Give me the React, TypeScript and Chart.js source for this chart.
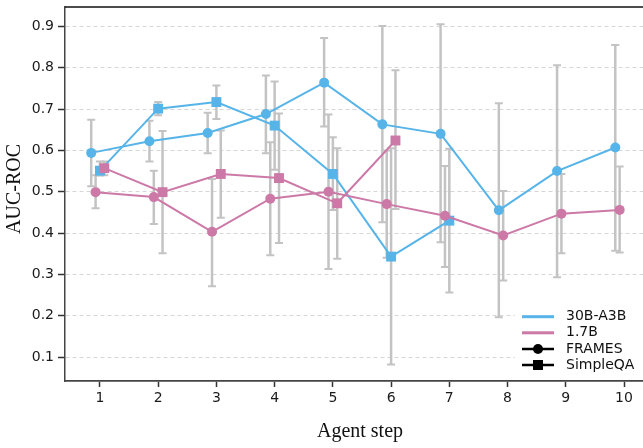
import { useEffect, useRef } from 'react';
import { Chart, registerables } from 'chart.js';

Chart.register(...registerables);

// ---- data ----
const STEPS = [1, 2, 3, 4, 5, 6, 7, 8, 9, 10];
const Y_TICKS = [0.1, 0.2, 0.3, 0.4, 0.5, 0.6, 0.7, 0.8, 0.9];

const FRAMES_30B = [0.594, 0.622, 0.642, 0.688, 0.764, 0.663, 0.64, 0.455, 0.55, 0.607];
const FRAMES_30B_LO = [0.513, 0.573, 0.593, 0.593, 0.658, 0.426, 0.378, 0.196, 0.293, 0.357];
const FRAMES_30B_HI = [0.674, 0.672, 0.691, 0.781, 0.872, 0.901, 0.905, 0.714, 0.806, 0.855];

const SIMPLEQA_30B = [0.551, 0.701, 0.717, 0.66, 0.543, 0.343, 0.43];
const SIMPLEQA_30B_LO = [0.539, 0.685, 0.676, 0.553, 0.456, 0.082, 0.256];
const SIMPLEQA_30B_HI = [0.573, 0.717, 0.757, 0.767, 0.632, 0.605, 0.604];

const FRAMES_17B = [0.499, 0.487, 0.403, 0.483, 0.5, 0.47, 0.442, 0.394, 0.447, 0.456];
const FRAMES_17B_LO = [0.46, 0.422, 0.271, 0.346, 0.313, 0.34, 0.318, 0.285, 0.351, 0.353];
const FRAMES_17B_HI = [0.54, 0.551, 0.531, 0.62, 0.687, 0.6, 0.562, 0.502, 0.543, 0.561];

const SIMPLEQA_17B = [0.557, 0.499, 0.543, 0.533, 0.472, 0.624];
const SIMPLEQA_17B_LO = [0.54, 0.351, 0.437, 0.376, 0.338, 0.458];
const SIMPLEQA_17B_HI = [0.573, 0.647, 0.648, 0.689, 0.605, 0.794];

const MODEL_LABELS = ['30B-A3B', '1.7B'];
const DATASET_LABELS = ['FRAMES', 'SimpleQA'];
const X_TITLE = 'Agent step';
const Y_TITLE = 'AUC-ROC';

// ---- styles ----
const BLUE = '#56B4E9';
const PINK = '#CC79A7';
const ERR = '#c3c3c3';
const TICK_FONT = { family: '"DejaVu Sans"', size: 14 };
const TITLE_FONT_CSS = '20px "Liberation Serif"';

type Series = {
  label: string;
  values: number[];
  lo: number[];
  hi: number[];
  off: number;
  color: string;
  style: 'circle' | 'rect';
  order: number;
};

const SERIES: Series[] = [
  { label: '30B-A3B FRAMES', values: FRAMES_30B, lo: FRAMES_30B_LO, hi: FRAMES_30B_HI, off: -0.15, color: BLUE, style: 'circle', order: 4 },
  { label: '30B-A3B SimpleQA', values: SIMPLEQA_30B, lo: SIMPLEQA_30B_LO, hi: SIMPLEQA_30B_HI, off: 0, color: BLUE, style: 'rect', order: 3 },
  { label: '1.7B FRAMES', values: FRAMES_17B, lo: FRAMES_17B_LO, hi: FRAMES_17B_HI, off: -0.075, color: PINK, style: 'circle', order: 2 },
  { label: '1.7B SimpleQA', values: SIMPLEQA_17B, lo: SIMPLEQA_17B_LO, hi: SIMPLEQA_17B_HI, off: 0.075, color: PINK, style: 'rect', order: 1 },
];

const errorBarPlugin = {
  id: 'errorBars',
  beforeDatasetsDraw(chart: any) {
    const { ctx, scales } = chart;
    const x = scales.x;
    const y = scales.y;
    ctx.save();
    ctx.strokeStyle = ERR;
    SERIES.forEach((s) => {
      s.lo.forEach((lo, i) => {
        const px = x.getPixelForValue(STEPS[i] + s.off);
        const y1 = y.getPixelForValue(lo);
        const y2 = y.getPixelForValue(s.hi[i]);
        ctx.lineWidth = 2.5;
        ctx.beginPath();
        ctx.moveTo(px, y1);
        ctx.lineTo(px, y2);
        ctx.stroke();
        ctx.lineWidth = 2;
        ctx.beginPath();
        ctx.moveTo(px - 4, y1);
        ctx.lineTo(px + 4, y1);
        ctx.moveTo(px - 4, y2);
        ctx.lineTo(px + 4, y2);
        ctx.stroke();
      });
    });
    ctx.restore();
  },
};

const framePlugin = {
  id: 'frameAndTitles',
  afterDraw(chart: any) {
    const { ctx, chartArea } = chart;
    ctx.save();
    ctx.strokeStyle = '#111';
    ctx.lineWidth = 1.5;
    ctx.beginPath();
    ctx.moveTo(chartArea.left, chartArea.top);
    ctx.lineTo(chart.width, chartArea.top);
    ctx.stroke();

    ctx.fillStyle = '#111';
    ctx.font = TITLE_FONT_CSS;
    ctx.textAlign = 'center';
    ctx.textBaseline = 'middle';
    ctx.fillText(X_TITLE, 360, 432);
    ctx.translate(15, 189);
    ctx.rotate(-Math.PI / 2);
    ctx.fillText(Y_TITLE, 0, 0);
    ctx.restore();
  },
};

const legendPlugin = {
  id: 'customLegend',
  afterDraw(chart: any) {
    const { ctx } = chart;
    const rows = [316.7, 332.8, 349, 365];
    const x0 = 522;
    const x1 = 554;
    const tx = 566;
    ctx.save();
    ctx.fillStyle = '#ffffff';
    ctx.fillRect(515, 305, 128, 72);
    ctx.font = '14px "DejaVu Sans"';
    ctx.textBaseline = 'middle';
    ctx.textAlign = 'left';
    const entries = [
      { text: MODEL_LABELS[0], color: BLUE, marker: '' },
      { text: MODEL_LABELS[1], color: PINK, marker: '' },
      { text: DATASET_LABELS[0], color: '#000', marker: 'circle' },
      { text: DATASET_LABELS[1], color: '#000', marker: 'rect' },
    ];
    entries.forEach((e, i) => {
      const yy = rows[i];
      ctx.strokeStyle = e.color;
      ctx.lineWidth = e.marker ? 2.5 : 3;
      ctx.beginPath();
      ctx.moveTo(x0, yy);
      ctx.lineTo(x1, yy);
      ctx.stroke();
      ctx.fillStyle = e.color;
      const cx = (x0 + x1) / 2;
      if (e.marker === 'circle') {
        ctx.beginPath();
        ctx.arc(cx, yy, 5, 0, Math.PI * 2);
        ctx.fill();
      } else if (e.marker === 'rect') {
        ctx.fillRect(cx - 5, yy - 5, 10, 10);
      }
      ctx.fillStyle = '#111';
      ctx.fillText(e.text, tx, yy);
    });
    ctx.restore();
  },
};

export default function App() {
  const ref = useRef<HTMLCanvasElement>(null);

  useEffect(() => {
    if (!ref.current) return;
    const datasets = SERIES.map((s) => ({
      label: s.label,
      data: s.values.map((v, i) => ({ x: STEPS[i] + s.off, y: v })),
      borderColor: s.color,
      backgroundColor: s.color,
      borderWidth: 2,
      pointStyle: s.style,
      pointRadius: s.style === 'rect' ? 7 : 5,
      pointBorderWidth: 0,
      pointBackgroundColor: s.color,
      pointBorderColor: s.color,
      tension: 0,
      order: s.order,
      clip: false as any,
    }));

    const chart = new Chart(ref.current, {
      type: 'line',
      data: { datasets },
      options: {
        animation: false,
        responsive: false,
        layout: { autoPadding: false, padding: { top: 7, left: 0, right: 0, bottom: 0 } },
        plugins: {
          legend: { display: false },
          tooltip: { enabled: false },
        },
        scales: {
          x: {
            type: 'linear',
            min: 0.4,
            max: 10.326,
            afterBuildTicks: (scale: any) => {
              scale.ticks = STEPS.map((v) => ({ value: v }));
            },
            afterFit: (scale: any) => {
              scale.height = 67;
              scale.paddingLeft = 0;
              scale.paddingRight = 0;
            },
            ticks: {
              font: TICK_FONT,
              color: '#1a1a1a',
              padding: 3,
              maxRotation: 0,
              autoSkip: false,
              callback: (v: any) => String(v),
            },
            grid: {
              drawOnChartArea: false,
              drawTicks: true,
              tickLength: 6,
              tickColor: '#333',
              tickWidth: 1.5,
            },
            border: { display: true, color: '#444', width: 1.8 },
            title: { display: false },
          },
          y: {
            type: 'linear',
            min: 0.042,
            max: 0.947,
            afterBuildTicks: (scale: any) => {
              scale.ticks = Y_TICKS.map((v) => ({ value: v }));
            },
            afterFit: (scale: any) => {
              scale.width = 65;
              scale.paddingTop = 0;
              scale.paddingBottom = 0;
            },
            ticks: {
              font: TICK_FONT,
              color: '#1a1a1a',
              padding: 4,
              autoSkip: false,
              callback: (v: any) => Number(v).toFixed(1),
            },
            grid: {
              drawOnChartArea: true,
              drawTicks: true,
              color: '#d6d6d6',
              lineWidth: 1,
              tickLength: 7,
              tickColor: '#333',
              tickWidth: 1.5,
              tickBorderDash: [],
            },
            border: { display: true, color: '#444', width: 1.5, dash: [4, 3] },
            title: { display: false },
          },
        },
      },
      plugins: [errorBarPlugin, framePlugin, legendPlugin],
    } as any);

    return () => chart.destroy();
  }, []);

  return (
    <div style={{ position: 'fixed', left: 0, top: 0, width: 643, height: 448, background: '#fff' }}>
      <canvas ref={ref} width={643} height={448} style={{ display: 'block', width: 643, height: 448 }} />
    </div>
  );
}
